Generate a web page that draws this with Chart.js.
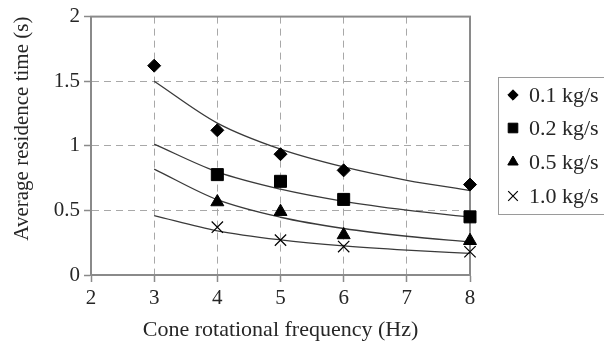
<!DOCTYPE html>
<html><head><meta charset="utf-8">
<script src="https://cdn.jsdelivr.net/npm/chart.js@4/dist/chart.umd.min.js"></script>
<style>html,body{margin:0;padding:0;background:#fff}canvas{display:block}</style>
</head><body>
<canvas id="c" width="604" height="343"></canvas>
<script>
const seriesLabels = ['0.1 kg/s', '0.2 kg/s', '0.5 kg/s', '1.0 kg/s'];
const xTitle = 'Cone rotational frequency (Hz)';
const yTitle = 'Average residence time (s)';
const freq01 = [3, 4, 5, 6, 8];
const time01 = [1.62, 1.12, 0.935, 0.81, 0.70];
const freqOther = [4, 5, 6, 8];
const time02 = [0.777, 0.725, 0.585, 0.45];
const time05 = [0.565, 0.49, 0.31, 0.265];
const time10 = [0.37, 0.27, 0.22, 0.18];
const fitFreq = [3, 4, 5, 6, 7, 8];
const fit01 = [1.50, 1.176, 0.974, 0.836, 0.733, 0.654];
const fit02 = [1.013, 0.798, 0.664, 0.570, 0.502, 0.449];
const fit05 = [0.82, 0.583, 0.447, 0.360, 0.300, 0.256];
const fit10 = [0.46, 0.342, 0.272, 0.225, 0.192, 0.167];

const FONT = "'Liberation Serif', 'Times New Roman', serif";
const TXT = '#262626';
const GRID = '#a8a8a8';
const FRAME = '#8a8a8a';
const pts = (xs, ys) => xs.map((x, i) => ({x, y: ys[i]}));

const markerStyles = [
  {pointStyle: 'rectRot', radius: 6.5},
  {pointStyle: 'rect', radius: 8.5},
  {pointStyle: 'triangle', radius: 7.5},
  {pointStyle: 'crossRot', radius: 8}
];
const markerData = [pts(freq01, time01), pts(freqOther, time02), pts(freqOther, time05), pts(freqOther, time10)];
const fitData = [fit01, fit02, fit05, fit10].map(f => pts(fitFreq, f));

const datasets = [];
fitData.forEach(d => datasets.push({
  data: d, showLine: true, pointRadius: 0, borderColor: '#3a3a3a', borderWidth: 1.3,
  cubicInterpolationMode: 'monotone', fill: false, order: 2, clip: false
}));
markerData.forEach((d, i) => datasets.push({
  label: seriesLabels[i], data: d, showLine: false, clip: false,
  pointStyle: markerStyles[i].pointStyle, pointRadius: markerStyles[i].radius,
  backgroundColor: '#000', borderColor: '#000', pointBorderWidth: i === 3 ? 1.2 : 1, order: 1
}));

const framePlugin = {
  id: 'frame',
  beforeDatasetsDraw(chart) {
    const {ctx, chartArea: a} = chart;
    ctx.save();
    ctx.strokeStyle = FRAME;
    ctx.lineWidth = 2;
    ctx.strokeRect(a.left, a.top, a.right - a.left, a.bottom - a.top);
    ctx.restore();
  }
};

const legendPlugin = {
  id: 'boxLegend',
  afterDraw(chart) {
    const {ctx} = chart;
    const left = 498, top = 77, bottom = 214;
    ctx.save();
    ctx.strokeStyle = '#9a9a9a';
    ctx.lineWidth = 1;
    ctx.strokeRect(left + 0.5, top + 0.5, 120, bottom - top);
    const rows = [95, 128, 162, 196];
    ctx.font = "22px " + FONT;
    ctx.textBaseline = 'middle';
    seriesLabels.forEach((lab, i) => {
      const ds = chart.data.datasets.find(d => d.label === lab);
      ctx.fillStyle = '#000'; ctx.strokeStyle = '#000'; ctx.lineWidth = ds.pointBorderWidth;
      const r = markerStyles[i].radius * (i === 3 ? 0.85 : 0.8);
      Chart.helpers.drawPoint(ctx, {pointStyle: ds.pointStyle, radius: r, borderWidth: ds.pointBorderWidth}, 513, rows[i]);
      ctx.fillStyle = TXT;
      ctx.fillText(lab, 529, rows[i] + 1);
    });
    ctx.restore();
  }
};

const gridOpts = {color: GRID, lineWidth: 1, drawTicks: true, tickLength: 7, tickColor: FRAME,
  tickBorderDash: [], tickWidth: 1.5, borderDash: [7, 5]};
const fmt = v => String(v);

new Chart(document.getElementById('c'), {
  type: 'scatter',
  data: {datasets},
  options: {
    responsive: false, animation: false, devicePixelRatio: 1,
    layout: {padding: {top: 15, right: 134, left: 0, bottom: 0}},
    plugins: {legend: {display: false}, tooltip: {enabled: false}},
    scales: {
      x: {
        type: 'linear', min: 2, max: 8,
        afterFit: s => { s.height = 68; },
        ticks: {stepSize: 1, color: TXT, font: {family: FONT, size: 21}, padding: 4, maxRotation: 0, callback: fmt},
        grid: gridOpts,
        border: {display: true, color: FRAME, width: 2, dash: [7, 5]},
        title: {display: true, text: xTitle, color: TXT, font: {family: FONT, size: 22}, padding: {top: 0, bottom: 0}}
      },
      y: {
        min: 0, max: 2,
        afterFit: s => { s.width = 91; },
        ticks: {stepSize: 0.5, color: TXT, font: {family: FONT, size: 21}, padding: 4, callback: fmt},
        grid: gridOpts,
        border: {display: true, color: FRAME, width: 2, dash: [7, 5]},
        title: {display: true, text: yTitle, align: 'end', color: TXT, font: {family: FONT, size: 21}, padding: {top: 10, bottom: 0}}
      }
    }
  },
  plugins: [framePlugin, legendPlugin]
});
</script>
</body></html>
